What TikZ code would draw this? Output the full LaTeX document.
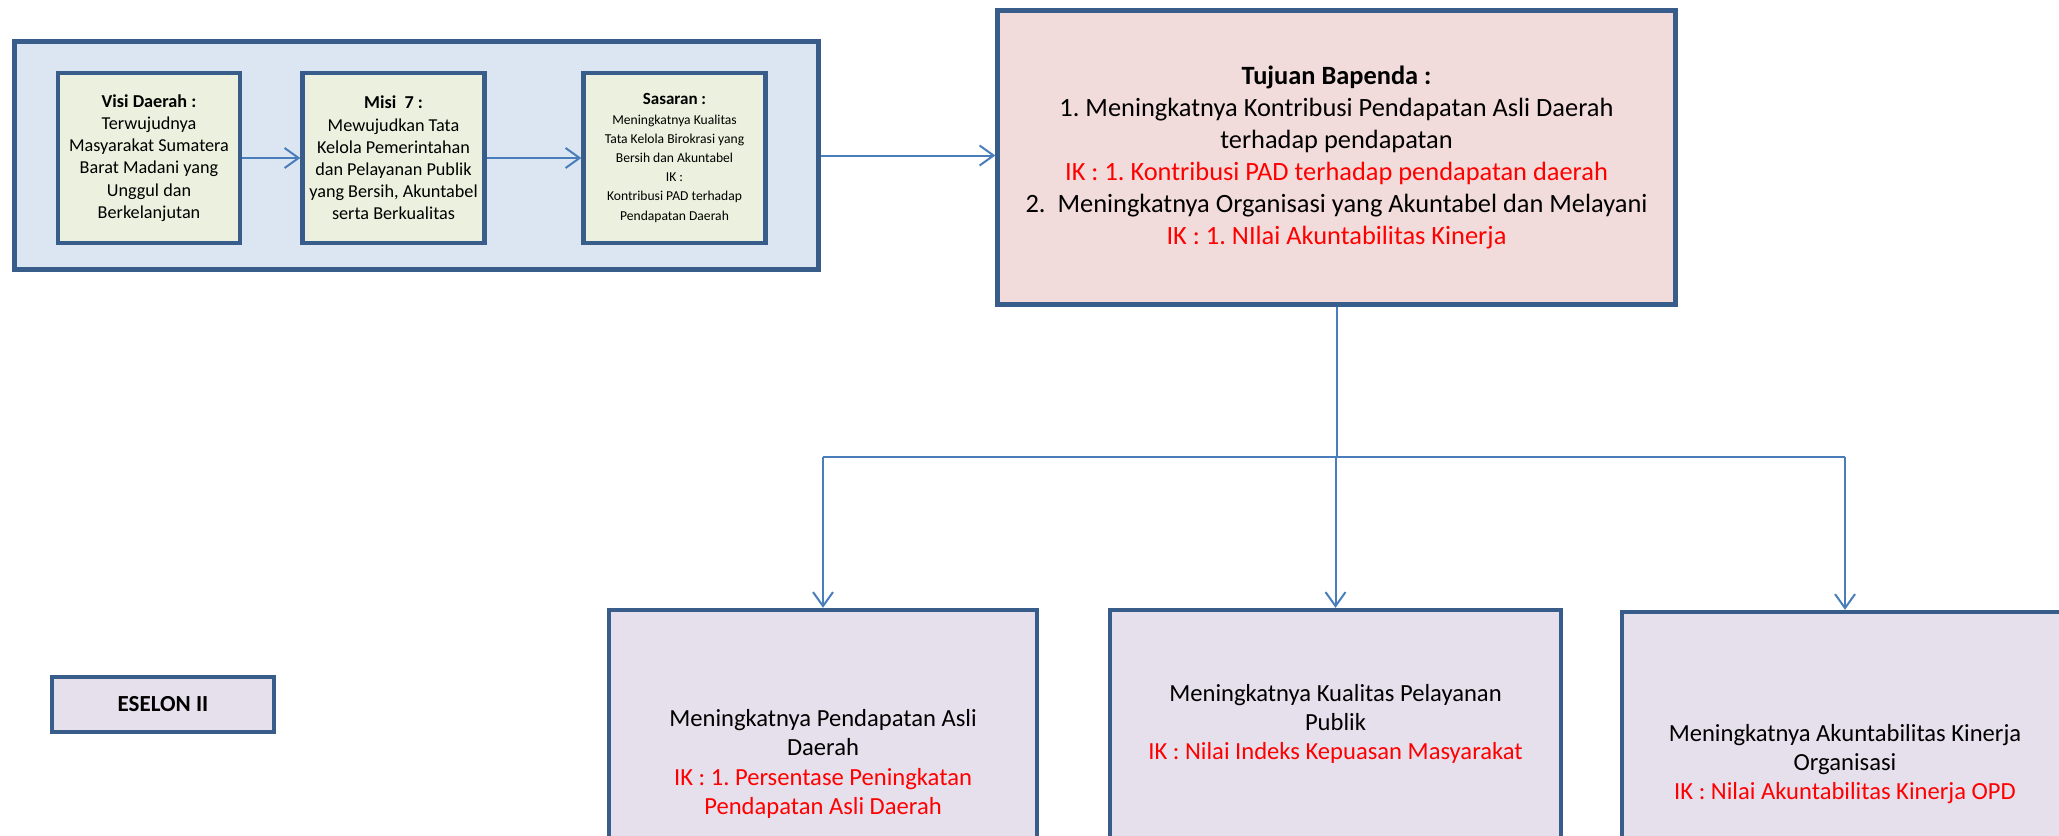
\documentclass[tikz,border=0pt]{standalone}
\usepackage{fontspec}
\setmainfont{Carlito}
\usepackage{tikz}
\usetikzlibrary{arrows.meta}
\usetikzlibrary{calc}
\usepackage{xcolor}
\definecolor{edgeblue}{HTML}{385D8A}
\definecolor{linkblue}{HTML}{4A7EBB}
\definecolor{framefill}{HTML}{DCE6F2}
\definecolor{greenfill}{HTML}{EBF1DE}
\definecolor{pinkfill}{HTML}{F2DCDB}
\definecolor{lilacfill}{HTML}{E5E0EC}
\definecolor{ikred}{HTML}{FF0000}
\frenchspacing

\begin{document}
\begin{tikzpicture}[x=0.5pt, y=-0.5pt, >={Straight Barb[length=7pt, width=10pt]},
    panel/.style={rectangle, draw=edgeblue, line width=2.2pt, inner sep=0pt, align=center},
    stepbox/.style={panel, fill=greenfill, minimum width=91pt, minimum height=85pt},
    goalbox/.style={panel, fill=lilacfill, font=\fontsize{12.3}{14.6}\selectfont},
    link/.style={draw=linkblue, line width=1pt}]
      \clip (0,0) rectangle (2059,835);

      % frame with visi, misi, sasaran
      \node [panel, fill=framefill, minimum width=402pt, minimum height=114pt, name=frame] at (416.5,155.5) {};
      \node [stepbox, font=\fontsize{9.1}{11.1}\selectfont, name=visi] at (149,158)
      {\textbf{Visi Daerah :}\\Terwujudnya\\Masyarakat Sumatera\\Barat Madani yang\\Unggul dan\\Berkelanjutan};
      \node [stepbox, font=\fontsize{9.1}{11.1}\selectfont, name=misi] at (393.5,158)
      {\textbf{Misi\ \ 7 :}\\Mewujudkan Tata\\Kelola Pemerintahan\\dan Pelayanan Publik\\yang Bersih, Akuntabel\\serta Berkualitas};
      \node [stepbox, font=\fontsize{6.8}{9.6}\selectfont, name=sasaran] at (674.5,158)
      {{\fontsize{8.5}{9.6}\selectfont\textbf{Sasaran :}}\\Meningkatnya Kualitas\\Tata Kelola Birokrasi yang\\Bersih dan Akuntabel\\IK :\\Kontribusi PAD terhadap\\Pendapatan Daerah};

      % tujuan
      \node [panel, fill=pinkfill, minimum width=339pt, minimum height=147pt,
      font=\fontsize{13.2}{16}\selectfont, name=tujuan] at (1336.5,157.5)
      {\textbf{Tujuan Bapenda :}\\
      1. Meningkatnya Kontribusi Pendapatan Asli Daerah\\
      terhadap pendapatan\\
      \textcolor{ikred}{IK : 1. Kontribusi PAD terhadap pendapatan daerah}\\
      2.\ \ Meningkatnya Organisasi yang Akuntabel dan Melayani\\
      \textcolor{ikred}{IK : 1. NIlai Akuntabilitas Kinerja}};

      % sasaran bapenda
      \node [goalbox, minimum width=214pt, minimum height=154pt, name=pad] at (823,764)
      {Meningkatnya Pendapatan Asli\\Daerah\\
      \textcolor{ikred}{IK : 1. Persentase Peningkatan}\\
      \textcolor{ikred}{Pendapatan Asli Daerah}};
      \node [goalbox, minimum width=225.5pt, minimum height=114pt, name=yanlik] at (1335.5,724)
      {Meningkatnya Kualitas Pelayanan\\Publik\\
      \textcolor{ikred}{IK : Nilai Indeks Kepuasan Masyarakat}};
      \node [goalbox, minimum width=223pt, minimum height=152pt, name=akip] at (1845,764)
      {Meningkatnya Akuntabilitas Kinerja\\Organisasi\\
      \textcolor{ikred}{IK : Nilai Akuntabilitas Kinerja OPD}};

      \node [panel, fill=lilacfill, minimum width=111pt, minimum height=27.5pt,
      font=\fontsize{11.5}{14}\selectfont\bfseries, name=eselon] at (163,704.5) {ESELON II};

      % links
      \draw [link, ->] (visi) -- (misi);
      \draw [link, ->] (misi) -- (sasaran);
      \draw [link, ->] (frame.east) -- (frame.east -| tujuan.west);

      \coordinate (split) at ($(tujuan.south) + (0,150)$);
      \draw [link] (tujuan.south) -- (split);
      \draw [link] (split -| pad.north) -- (split -| akip.north);
      \foreach \goal in {pad, yanlik, akip}
        \draw [link, ->] (split -| \goal.north) -- (\goal.north);
    \end{tikzpicture}
\end{document}
